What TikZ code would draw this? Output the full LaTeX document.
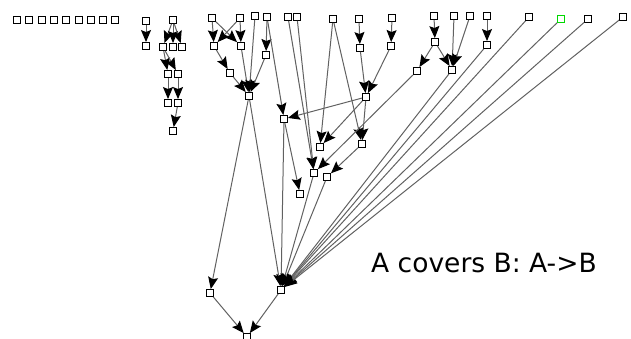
\documentclass[tikz,border=0pt]{standalone}
\usepackage{fontspec}
\usepackage{tikz}
\usetikzlibrary{arrows.meta}
\newfontfamily\labelfont{DejaVu Sans}
\tikzset{elem/.style={draw, rectangle, line width=0.9pt, fill=white, minimum size=7pt, inner sep=0pt},
	sel/.style={draw=green!85!black, rectangle, line width=0.9pt, fill=white, minimum size=7pt, inner sep=0pt},
	cov/.style={draw=black!62, line width=1pt, -{Stealth[length=12pt, width=10pt, inset=2pt, color=black]}}
}

\begin{document}
\begin{tikzpicture}[x=1pt, y=-1pt]
			\useasboundingbox (0,0) rectangle (631,339);
			% elements without relations
			\foreach \i in {1,...,9}
				\node[elem] (i\i) at ({17+12.3*(\i-1)},20) {};
			% left groups
			\node[elem] (a1) at (146,21) {};
			\node[elem] (a2) at (146,46) {};
			\node[elem] (b1) at (173,20) {};
			\node[elem] (b2) at (163,47) {};
			\node[elem] (b3) at (173,47) {};
			\node[elem] (b4) at (182,47) {};
			\node[elem] (b5) at (168,74) {};
			\node[elem] (b6) at (178,74) {};
			\node[elem] (b7) at (168,103) {};
			\node[elem] (b8) at (178,103) {};
			\node[elem] (b9) at (173,131) {};
			% top row
			\node[elem] (c1) at (212,18) {};
			\node[elem] (c2) at (240,18) {};
			\node[elem] (c3) at (255,16) {};
			\node[elem] (c4) at (267,17) {};
			\node[elem] (c5) at (288,17) {};
			\node[elem] (c6) at (297,17) {};
			\node[elem] (c7) at (333,19) {};
			\node[elem] (c8) at (359,19) {};
			\node[elem] (c9) at (392,18) {};
			\node[elem] (c10) at (434,16) {};
			\node[elem] (c11) at (454,16) {};
			\node[elem] (c12) at (470,16) {};
			\node[elem] (c13) at (487,16) {};
			\node[elem] (c14) at (529,17) {};
			\node[sel] (c15) at (561,19) {};
			\node[elem] (c16) at (588,19) {};
			\node[elem] (c17) at (623,17) {};
			% lower levels
			\node[elem] (d1) at (214,46) {};
			\node[elem] (d2) at (241,46) {};
			\node[elem] (d3) at (266,55) {};
			\node[elem] (d4) at (360,48) {};
			\node[elem] (d5) at (391,46) {};
			\node[elem] (d6) at (435,42) {};
			\node[elem] (d7) at (487,45) {};
			\node[elem] (e1) at (230,73) {};
			\node[elem] (e2) at (417,71) {};
			\node[elem] (e3) at (452,70) {};
			\node[elem] (f1) at (249,96) {};
			\node[elem] (f2) at (366,97) {};
			\node[elem] (g1) at (284,119) {};
			\node[elem] (h1) at (320,147) {};
			\node[elem] (h2) at (362,144) {};
			\node[elem] (k1) at (314,173) {};
			\node[elem] (k2) at (327,177) {};
			\node[elem] (k3) at (300,194) {};
			\node[elem] (m1) at (210,293) {};
			\node[elem] (m2) at (281,290) {};
			\node[elem] (z) at (247,337) {};
			
			% draw lines
			\draw[cov] (a1) -- (a2);
			\draw[cov] (b1) -- (b2);
			\draw[cov] (b1) -- (b3);
			\draw[cov] (b1) -- (b4);
			\draw[cov] (b2) -- (b5);
			\draw[cov] (b2) -- (b6);
			\draw[cov] (b5) -- (b7);
			\draw[cov] (b6) -- (b8);
			\draw[cov] (b8) -- (b9);
			\draw[cov] (c1) -- (d1);
			\draw[cov] (c1) -- (d2);
			\draw[cov] (c2) -- (d1);
			\draw[cov] (c2) -- (d2);
			\draw[cov] (d1) -- (e1);
			\draw[cov] (e1) -- (f1);
			\draw[cov] (d2) -- (f1);
			\draw[cov] (c3) -- (f1);
			\draw[cov] (d3) -- (f1);
			\draw[cov] (c4) -- (d3);
			\draw[cov] (c4) -- (g1);
			\draw[cov] (c5) -- (k1);
			\draw[cov] (c6) -- (k1);
			\draw[cov] (c7) -- (h1);
			\draw[cov] (c7) -- (h2);
			\draw[cov] (c8) -- (d4);
			\draw[cov] (c9) -- (d5);
			\draw[cov] (d4) -- (f2);
			\draw[cov] (d5) -- (f2);
			\draw[cov] (f2) -- (g1);
			\draw[cov] (f2) -- (h1);
			\draw[cov] (f2) -- (h2);
			\draw[cov] (h2) -- (k2);
			\draw[cov] (e2) -- (k1);
			\draw[cov] (c10) -- (d6);
			\draw[cov] (d6) -- (e2);
			\draw[cov] (d6) -- (e3);
			\draw[cov] (c11) -- (e3);
			\draw[cov] (c12) -- (e3);
			\draw[cov] (c13) -- (d7);
			\draw[cov] (g1) -- (k3);
			\draw[cov] (g1) -- (m2);
			\draw[cov] (f1) -- (m1);
			\draw[cov] (f1) -- (m2);
			\draw[cov] (k1) -- (m2);
			\draw[cov] (k2) -- (m2);
			\foreach \s in {e3,d7,c14,c15,c16,c17}
				\draw[cov] (\s) -- (m2);
			\draw[cov] (m1) -- (z);
			\draw[cov] (m2) -- (z);
			
			\node[anchor=base west, inner sep=0pt, font=\labelfont\fontsize{26.5}{30}\selectfont] (legend) at (371,272) {A covers B: A->B};
		\end{tikzpicture}
\end{document}
